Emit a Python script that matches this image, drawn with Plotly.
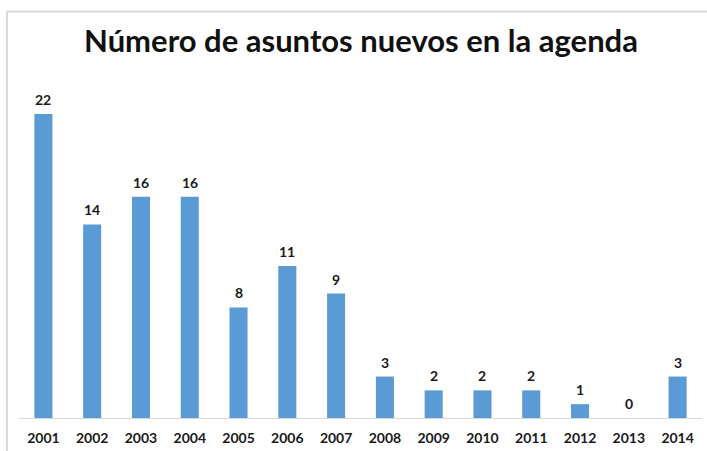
import plotly.graph_objects as go

years = ["2001", "2002", "2003", "2004", "2005", "2006", "2007",
         "2008", "2009", "2010", "2011", "2012", "2013", "2014"]
nuevos = [22, 14, 16, 16, 8, 11, 9, 3, 2, 2, 2, 1, 0, 3]

W, H = 707, 451
ML, MR, MT, MB = 19, 5, 60, 30
plot_w = W - ML - MR
plot_h = H - MT - MB

label_font = dict(family="Lato", size=14, color="#1a1a1a", weight="bold")

fig = go.Figure(go.Bar(
    x=years,
    y=nuevos,
    marker=dict(color="#5B9BD5", line=dict(width=0)),
    width=0.37,
    cliponaxis=False,
))

# value labels above each bar (category index positions)
for i, v in enumerate(nuevos):
    fig.add_annotation(x=i, y=v, text=str(v), showarrow=False,
                       xref="x", yref="y",
                       yanchor="bottom", yshift=4, font=label_font)

# outer chart frame (light grey), pixel positions converted to paper coords
fx0 = (7 - ML) / plot_w
fy1 = (H - MB - 11) / plot_h
fig.add_shape(type="line", xref="paper", yref="paper",
              x0=fx0, x1=fx0, y0=-1, y1=fy1,
              line=dict(color="#D9D9D9", width=2))
fig.add_shape(type="line", xref="paper", yref="paper",
              x0=fx0, x1=1.2, y0=fy1, y1=fy1,
              line=dict(color="#D9D9D9", width=2))

fig.update_layout(
    width=W, height=H,
    margin=dict(l=ML, r=MR, t=MT, b=MB),
    paper_bgcolor="white", plot_bgcolor="white",
    title=dict(text="Número de asuntos nuevos en la agenda",
               x=361 / W, xanchor="center", y=1 - 41 / H, yanchor="middle",
               font=dict(family="Lato", size=31, color="#111111", weight="bold")),
    showlegend=False,
    bargap=0.63,
    xaxis=dict(type="category", showline=True, linecolor="#D9D9D9", linewidth=1,
               showgrid=False, ticks="", ticklabelstandoff=7,
               tickfont=dict(family="Lato", size=14, color="#1a1a1a", weight="bold")),
    yaxis=dict(range=[0, 25.9], visible=False, showgrid=False),
)

fig.write_html("out.html")
